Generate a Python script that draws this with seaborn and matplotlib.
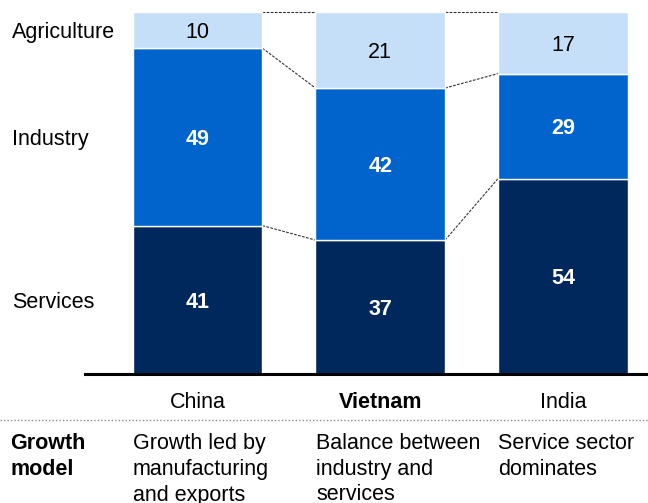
import matplotlib
matplotlib.use("Agg")
import matplotlib.pyplot as plt
from matplotlib.lines import Line2D
import numpy as np
import pandas as pd
import seaborn as sns

# Sector shares of GDP (%)
countries = ["China", "Vietnam", "India"]
services = [41, 37, 54]
industry = [49, 42, 29]
agriculture = [10, 21, 17]
sectors = ["Services", "Industry", "Agriculture"]
growth_model = [
    "Growth led by\nmanufacturing\nand exports",
    "Balance between\nindustry and\nservices",
    "Service sector\ndominates",
]
row_title = "Growth\nmodel"

sns.set_theme(style="white")
plt.rcParams["font.family"] = ["Liberation Sans", "DejaVu Sans"]

C_SERV = "#00285C"
C_IND = "#0064CC"
C_AGR = "#C6DFF8"
FS = 15.5
VA = "center_baseline"

W, H = 648, 503
fig = plt.figure(figsize=(W / 100, H / 100), dpi=100)
ax_l, ax_r, ax_t, ax_b = 85, 648, 12, 374
ax = fig.add_axes([ax_l / W, 1 - ax_b / H, (ax_r - ax_l) / W, (ax_b - ax_t) / H])

df = pd.DataFrame({"country": countries, "Services": services,
                   "Industry": industry, "Agriculture": agriculture})
bar_w = 0.71
colors = {"Services": C_SERV, "Industry": C_IND, "Agriculture": C_AGR}
bottom = np.zeros(len(countries))
for s in sectors:
    sns.barplot(data=df, x="country", y=s, color=colors[s], width=bar_w,
                bottom=bottom, edgecolor="white", linewidth=1.0,
                saturation=1, ax=ax, zorder=2)
    vals = df[s].to_numpy()
    for i, v in enumerate(vals):
        mid = bottom[i] + v / 2
        if s == "Agriculture":
            ax.text(i, mid, f"{v}", ha="center", va=VA, fontsize=FS,
                    color="black")
        else:
            ax.text(i, mid, f"{v}", ha="center", va=VA, fontsize=FS,
                    color="white", fontweight="bold")
    bottom = bottom + vals

# Dashed connectors between segment boundaries of neighbouring bars
cum = np.cumsum(np.array([services, industry, agriculture]), axis=0)
for i in range(len(countries) - 1):
    for level in cum:
        ax.plot([i + bar_w / 2, i + 1 - bar_w / 2], [level[i], level[i + 1]],
                color="#333333", lw=0.8, ls=(0, (2.5, 1.2)), zorder=1,
                clip_on=False)

x_of = lambda px: (px - 197.5) / 182.75

# Sector names alongside the first bar
b0 = 0
for s, v in zip(sectors, [services[0], industry[0], agriculture[0]]):
    ax.text(x_of(12), b0 + v / 2, s, ha="left", va=VA, fontsize=FS,
            color="black")
    b0 += v

ax.set_xlim(x_of(ax_l), x_of(ax_r))
ax.set_ylim(0, 100)
ax.set_xlabel("")
ax.set_ylabel("")
ax.set_xticks([])
ax.set_yticks([])
for sp in ["top", "left", "right"]:
    ax.spines[sp].set_visible(False)
ax.spines["bottom"].set_color("black")
ax.spines["bottom"].set_linewidth(2.2)

# Country names under the axis
for i, c in enumerate(countries):
    ax.text(i, -(400 - ax_b) / (ax_b - ax_t), c, ha="center", va=VA,
            fontsize=FS, color="black",
            fontweight="bold" if c == "Vietnam" else "normal",
            transform=ax.get_xaxis_transform(), clip_on=False)

# Dotted separator
fig.add_artist(Line2D([0, 1], [1 - 420 / H] * 2, color="#8a8a8a", lw=1.0,
                      ls=(0, (1, 1.5)), transform=fig.transFigure))

# Growth model row
line_y = [441, 467, 492.5]
for k, ln in enumerate(row_title.split("\n")):
    fig.text(10 / W, 1 - line_y[k] / H, ln, ha="left", va=VA,
             fontsize=FS, fontweight="bold", color="black")
bar_lefts = [133, 316, 498]
for x0, desc in zip(bar_lefts, growth_model):
    for k, ln in enumerate(desc.split("\n")):
        fig.text(x0 / W, 1 - line_y[k] / H, ln, ha="left", va=VA,
                 fontsize=FS, color="black")

fig.savefig("out.png", dpi=100)
